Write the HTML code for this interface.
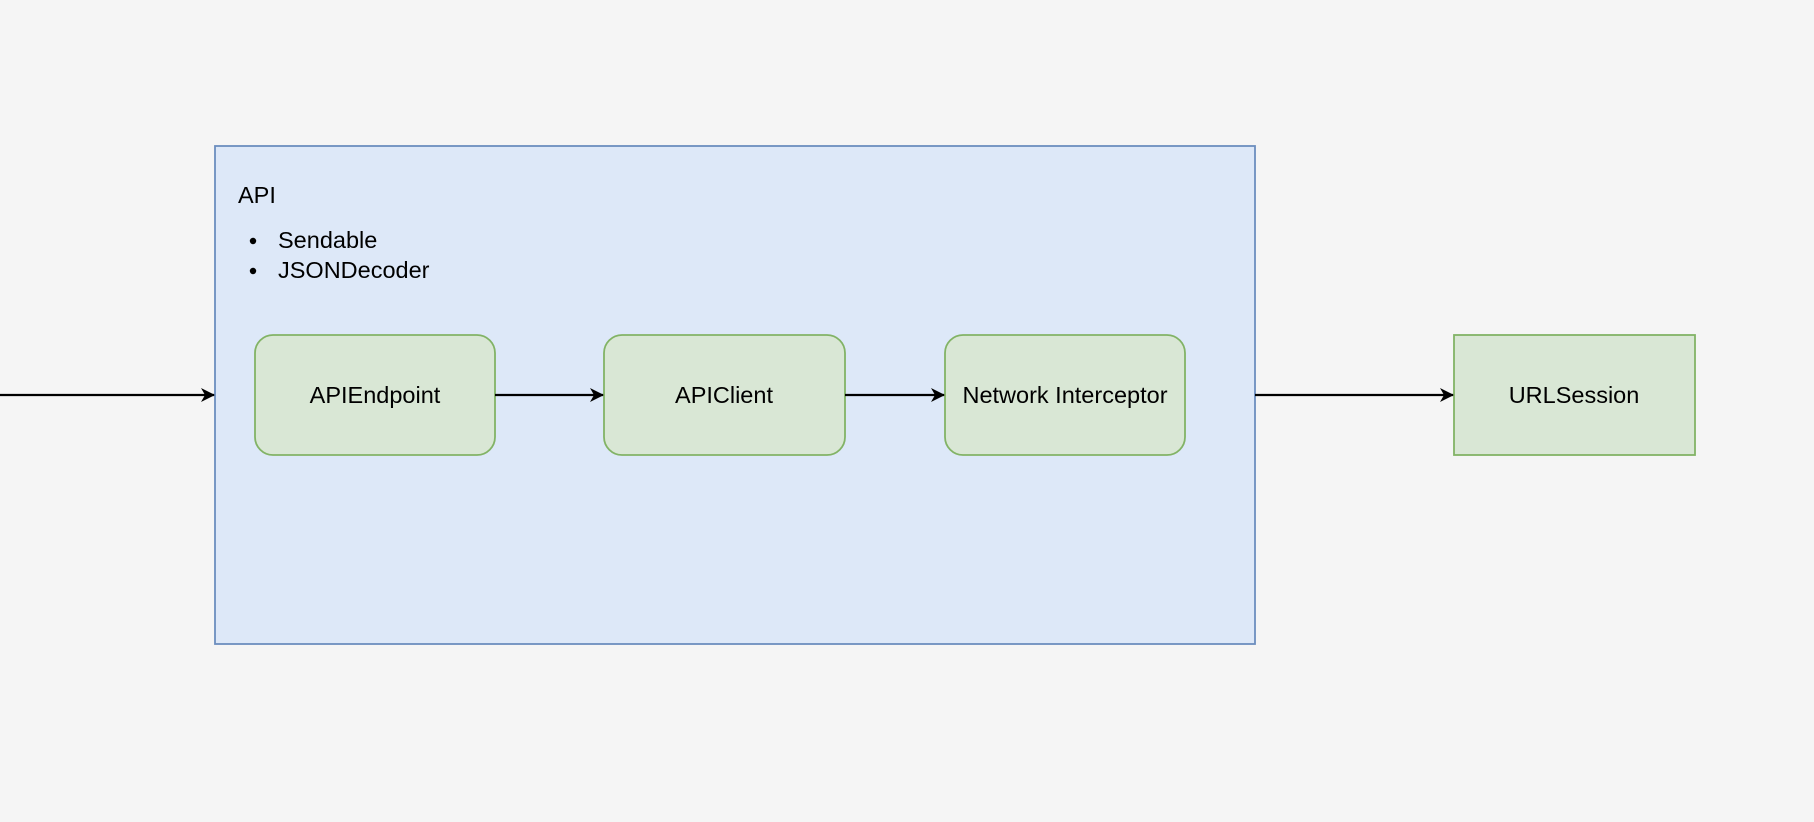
<!DOCTYPE html>
<html><head><meta charset="utf-8"><style>
html,body{margin:0;padding:0;background:#f5f5f5;}
body{width:1814px;height:822px;position:relative;overflow:hidden;font-family:"Liberation Sans",Arial,sans-serif;}
</style></head><body>
<svg width="1814" height="822" style="position:absolute;left:0;top:0" xmlns="http://www.w3.org/2000/svg">
<defs><marker id="a" markerWidth="14" markerHeight="14" refX="13" refY="7" orient="auto" markerUnits="userSpaceOnUse">
<path d="M0,0 L14,7 L0,14 L4,7 Z" fill="#000"/></marker></defs>
<rect x="215" y="146" width="1040" height="498" fill="#dde8f8" stroke="#6c8ebf" stroke-width="1.8"/>
<g font-size="23.5" font-family="Liberation Sans, Arial, sans-serif" fill="#000">
<text x="238" y="203">API</text>
<text x="278" y="248">Sendable</text>
<text x="278" y="278">JSONDecoder</text>
</g>
<circle cx="253" cy="241" r="3.2" fill="#000"/>
<circle cx="253" cy="271" r="3.2" fill="#000"/>
<g fill="#d9e7d5" stroke="#82b366" stroke-width="1.8">
<rect x="255" y="335" width="240" height="120" rx="18"/>
<rect x="604" y="335" width="241" height="120" rx="18"/>
<rect x="945" y="335" width="240" height="120" rx="18"/>
<rect x="1454" y="335" width="241" height="120"/>
</g>
<g font-size="23.5" font-family="Liberation Sans, Arial, sans-serif" text-anchor="middle" fill="#000">
<text x="375" y="403">APIEndpoint</text>
<text x="724" y="403">APIClient</text>
<text x="1065" y="403">Network Interceptor</text>
<text x="1574" y="403">URLSession</text>
</g>
<g stroke="#000" stroke-width="2.2" marker-end="url(#a)">
<line x1="0" y1="395" x2="214" y2="395"/>
<line x1="495" y1="395" x2="603" y2="395"/>
<line x1="845" y1="395" x2="944" y2="395"/>
<line x1="1255" y1="395" x2="1453" y2="395"/>
</g>
</svg>
</body></html>
